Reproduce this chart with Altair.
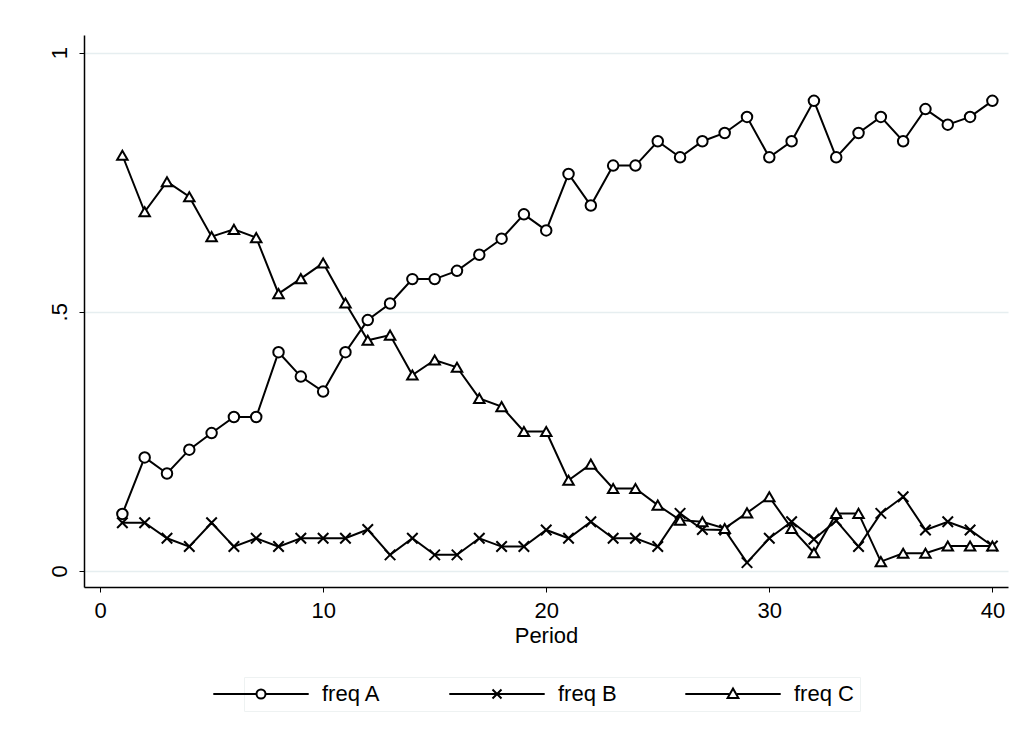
import altair as alt
import pandas as pd

periods = list(range(1, 41))
freq_a = [0.110, 0.219, 0.188, 0.234, 0.266, 0.297, 0.297, 0.422, 0.375, 0.346,
          0.422, 0.484, 0.516, 0.563, 0.563, 0.579, 0.610, 0.641, 0.688, 0.657,
          0.766, 0.705, 0.782, 0.782, 0.829, 0.798, 0.829, 0.845, 0.876, 0.798,
          0.829, 0.907, 0.798, 0.845, 0.876, 0.829, 0.891, 0.861, 0.876, 0.907]
freq_b = [0.093, 0.093, 0.063, 0.047, 0.093, 0.047, 0.063, 0.047, 0.063, 0.063,
          0.063, 0.080, 0.031, 0.063, 0.031, 0.031, 0.063, 0.047, 0.047, 0.079,
          0.063, 0.095, 0.063, 0.063, 0.047, 0.111, 0.080, 0.079, 0.016, 0.063,
          0.095, 0.061, 0.097, 0.047, 0.111, 0.143, 0.079, 0.095, 0.079, 0.048]
freq_c = [0.802, 0.693, 0.751, 0.722, 0.645, 0.659, 0.643, 0.535, 0.564, 0.594,
          0.517, 0.445, 0.455, 0.378, 0.407, 0.393, 0.333, 0.317, 0.269, 0.269,
          0.175, 0.206, 0.159, 0.159, 0.127, 0.098, 0.095, 0.082, 0.112, 0.143,
          0.082, 0.035, 0.111, 0.111, 0.018, 0.034, 0.034, 0.048, 0.048, 0.048]
series = ["freq A", "freq B", "freq C"]

df = pd.concat([
    pd.DataFrame({"Period": periods, "value": vals, "series": name})
    for name, vals in zip(series, [freq_a, freq_b, freq_c])
])

FONT = "Liberation Sans"
xcross = "M-1,-1L1,1M-1,1L1,-1"
point_shapes = ["circle", xcross, "triangle-up"]
legend_shapes = [
    "M-5.3,0L-0.5,0M0.5,0L5.3,0M-0.5,0A0.5,0.5 0 1,1 0.5,0A0.5,0.5 0 1,1 -0.5,0Z",
    "M-5.3,0L5.3,0M-0.5,-0.5L0.5,0.5M-0.5,0.5L0.5,-0.5",
    "M-5.3,0L-0.45,0M0.45,0L5.3,0M0,-0.6L0.6,0.45L-0.6,0.45Z",
]

x = alt.X("Period:Q", title="Period",
          scale=alt.Scale(domain=[-0.72, 40.7], nice=False, zero=False),
          axis=alt.Axis(values=[0, 10, 20, 30, 40], grid=False, tickSize=5,
                        labelPadding=8, titlePadding=4, labelFontSize=22,
                        titleFontSize=22))
y = alt.Y("value:Q", title=None,
          scale=alt.Scale(domain=[-0.031, 1.034], nice=False, zero=False),
          axis=alt.Axis(values=[0, 0.5, 1],
                        labelExpr="datum.value == 0.5 ? '.5' : format(datum.value, 'd')",
                        labelAngle=270, labelAlign="center", labelBaseline="bottom",
                        tickSize=5, labelPadding=8, grid=True, gridColor="#e6eef0",
                        gridWidth=1.5, labelFontSize=22))

base = alt.Chart(df).encode(x=x, y=y, detail="series:N")
lines = base.mark_line(color="black", strokeWidth=2)
points = base.mark_point(filled=True, fill="white", stroke="black", strokeWidth=2,
                         size=110, opacity=1).encode(
    shape=alt.Shape("series:N", scale=alt.Scale(domain=series, range=point_shapes),
                    legend=None))
legend_layer = base.mark_point(opacity=0, size=1).encode(
    shape=alt.Shape(
        "series:N",
        scale=alt.Scale(domain=series, range=legend_shapes),
        legend=alt.Legend(title=None, orient="none", legendX=160, legendY=642,
                          direction="horizontal",
                          labelFontSize=22, labelFont=FONT, labelColor="black",
                          symbolSize=324, symbolStrokeColor="black",
                          symbolFillColor="white", symbolStrokeWidth=2,
                          symbolOpacity=1, columnPadding=64, labelOffset=50,
                          strokeColor="#eef2f2", padding=6)))

chart = alt.layer(lines, points, legend_layer).resolve_scale(shape="independent")
chart = chart.properties(width=924, height=552,
                         autosize=alt.AutoSizeParams(type="none"),
                         padding={"left": 76, "top": 27, "right": 6, "bottom": 150})
chart = chart.configure_view(stroke=None).configure_axis(
    domainColor="black", domainWidth=1.5, tickColor="black", labelFont=FONT,
    labelColor="black", titleFont=FONT, titleFontWeight="normal",
    titleColor="black")
chart.save("out.html", embed_options={"renderer": "svg", "actions": False})
